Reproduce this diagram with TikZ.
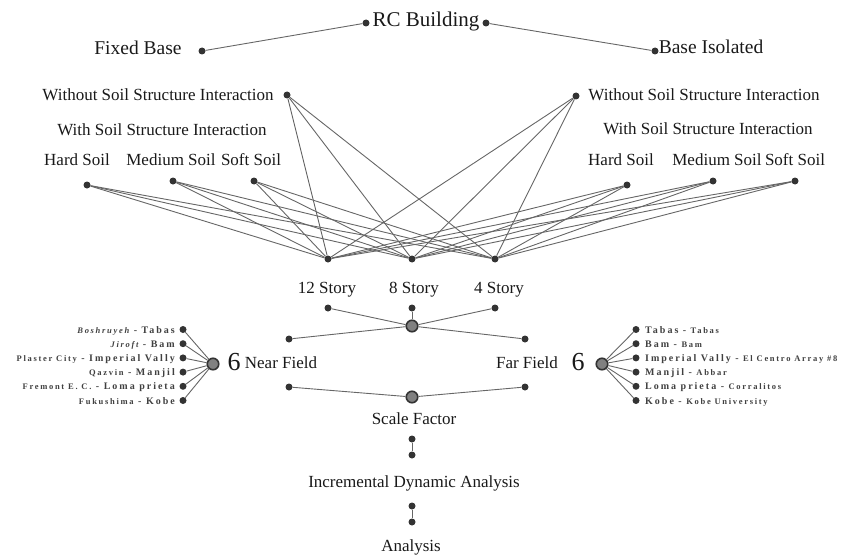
\documentclass[tikz,border=0pt]{standalone}
\usepackage{fontspec}
\setmainfont{Liberation Serif}
\newfontfamily\leaffont[LetterSpace=20]{Liberation Serif}
\newcommand\stn[1]{{\fontsize{8.5}{9}\selectfont #1}}

\begin{document}
\begin{tikzpicture}[x=1pt,y=-1pt,
   dot/.style={circle,fill=black!80,inner sep=0pt,minimum size=7pt},
   hub/.style={circle,draw=black!80,line width=1.6pt,fill=black!50,inner sep=0pt,minimum size=11.5pt},
   wire/.style={draw=black!60,line width=0.9pt},
   lbl/.style={font=\fontsize{17}{17}\selectfont,text=black!90,inner sep=0pt,anchor=base},
   leafL/.style={font=\leaffont\bfseries\fontsize{10}{10}\selectfont,text=black!75,inner sep=0pt,anchor=base east},
   leafR/.style={font=\leaffont\bfseries\fontsize{10}{10}\selectfont,text=black!75,inner sep=0pt,anchor=base west}]
   \useasboundingbox (0,0) rectangle (850,559);
   % top level
   \node[lbl,font=\fontsize{21}{21}\selectfont] (rc) at (426,27) {RC Building};
   \node[dot] (rcL) at (366,23) {};
   \node[dot] (rcR) at (486,23) {};
   \node[lbl,font=\fontsize{19.5}{20}\selectfont] (fbT) at (138,55) {Fixed Base};
   \node[dot] (fb) at (202,51) {};
   \node[lbl,font=\fontsize{19.5}{20}\selectfont] (biT) at (711,54) {Base Isolated};
   \node[dot] (bi) at (655,51) {};
   \draw[wire] (fb) -- (rcL);
   \draw[wire] (rcR) -- (bi);
   % soil structure interaction
   \node[lbl] (woL) at (158,101) {Without Soil Structure Interaction};
   \node[dot] (wL) at (287,95) {};
   \node[lbl] (woR) at (704,101) {Without Soil Structure Interaction};
   \node[dot] (wR) at (576,96) {};
   \node[lbl] (wiL) at (162,135) {With Soil Structure Interaction};
   \node[lbl] (wiR) at (708,134) {With Soil Structure Interaction};
   \node[lbl] (hsL) at (77,165) {Hard Soil};
   \node[lbl] (msL) at (171,165) {Medium Soil};
   \node[lbl] (ssL) at (251,165) {Soft Soil};
   \node[lbl] (hsR) at (621,165) {Hard Soil};
   \node[lbl] (msR) at (717,165) {Medium Soil};
   \node[lbl] (ssR) at (795,165) {Soft Soil};
   \node[dot] (hL) at (87,185) {};
   \node[dot] (mL) at (173,181) {};
   \node[dot] (sL) at (254,181) {};
   \node[dot] (hR) at (627,185) {};
   \node[dot] (mR) at (713,181) {};
   \node[dot] (sR) at (795,181) {};
   % stories
   \node[dot] (s12) at (328,259) {};
   \node[dot] (s8) at (412,259) {};
   \node[dot] (s4) at (495,259) {};
   \foreach \src in {wL,hL,mL,sL,wR,hR,mR,sR}
      \foreach \st in {s12,s8,s4}
         \draw[wire] (\src) -- (\st);
   \node[lbl] (t12) at (327,293) {12 Story};
   \node[lbl] (t8) at (414,293) {8 Story};
   \node[lbl] (t4) at (499,293) {4 Story};
   \node[dot] (a12) at (328,308) {};
   \node[dot] (a8) at (412,308) {};
   \node[dot] (a4) at (495,308) {};
   \node[hub] (hubA) at (412,326) {};
   \draw[wire] (a12) -- (hubA);
   \draw[wire] (a8) -- (hubA);
   \draw[wire] (a4) -- (hubA);
   % near / far field
   \node[dot] (nf1) at (289,339) {};
   \node[dot] (ff1) at (525,339) {};
   \draw[wire] (hubA) -- (nf1);
   \draw[wire] (hubA) -- (ff1);
   \node[lbl] (nfT) at (281,368) {Near Field};
   \node[lbl] (ffT) at (527,368) {Far Field};
   \node[lbl,font=\fontsize{26}{26}\selectfont] (sixL) at (234,370) {6};
   \node[lbl,font=\fontsize{26}{26}\selectfont] (sixR) at (578,370) {6};
   \node[hub] (hubN) at (213,364) {};
   \node[hub] (hubF) at (602,364) {};
   \node[dot] (nl1) at (183,329.5) {};
   \node[dot] (nl2) at (183,343.7) {};
   \node[dot] (nl3) at (183,357.9) {};
   \node[dot] (nl4) at (183,372.1) {};
   \node[dot] (nl5) at (183,386.3) {};
   \node[dot] (nl6) at (183,400.5) {};
   \node[dot] (fl1) at (636,329.5) {};
   \node[dot] (fl2) at (636,343.7) {};
   \node[dot] (fl3) at (636,357.9) {};
   \node[dot] (fl4) at (636,372.1) {};
   \node[dot] (fl5) at (636,386.3) {};
   \node[dot] (fl6) at (636,400.5) {};
   \foreach \i in {1,...,6} {
      \draw[wire] (hubN) -- (nl\i);
      \draw[wire] (hubF) -- (fl\i);
   }
   \node[leafL] (nt1) at (175,333) {\stn{\itshape Boshruyeh} - Tabas};
   \node[leafL] (nt2) at (175,347.2) {\stn{\itshape Jiroft} - Bam};
   \node[leafL] (nt3) at (175,361.4) {\stn{Plaster City} - Imperial Vally};
   \node[leafL] (nt4) at (175,375.6) {\stn{Qazvin} - Manjil};
   \node[leafL] (nt5) at (175,389.8) {\stn{Fremont E. C.} - Loma prieta};
   \node[leafL] (nt6) at (175,404) {\stn{Fukushima} - Kobe};
   \node[leafR] (ft1) at (645,333) {Tabas - \stn{Tabas}};
   \node[leafR] (ft2) at (645,347.2) {Bam - \stn{Bam}};
   \node[leafR] (ft3) at (645,361.4) {Imperial Vally - \stn{El Centro Array \#8}};
   \node[leafR] (ft4) at (645,375.6) {Manjil - \stn{Abbar}};
   \node[leafR] (ft5) at (645,389.8) {Loma prieta - \stn{Corralitos}};
   \node[leafR] (ft6) at (645,404) {Kobe - \stn{Kobe University}};
   % scale factor
   \node[dot] (nf2) at (289,387) {};
   \node[dot] (ff2) at (525,387) {};
   \node[hub] (hubB) at (412,397) {};
   \draw[wire] (nf2) -- (hubB);
   \draw[wire] (ff2) -- (hubB);
   \node[lbl] (sfT) at (414,424) {Scale Factor};
   \node[dot] (sf1) at (412,439) {};
   \node[dot] (sf2) at (412,455) {};
   \draw[wire] (sf1) -- (sf2);
   \node[lbl] (idaT) at (414,487) {Incremental Dynamic Analysis};
   \node[dot] (id1) at (412,506) {};
   \node[dot] (id2) at (412,522) {};
   \draw[wire] (id1) -- (id2);
   \node[lbl] (anT) at (411,551) {Analysis};
\end{tikzpicture}
\end{document}
